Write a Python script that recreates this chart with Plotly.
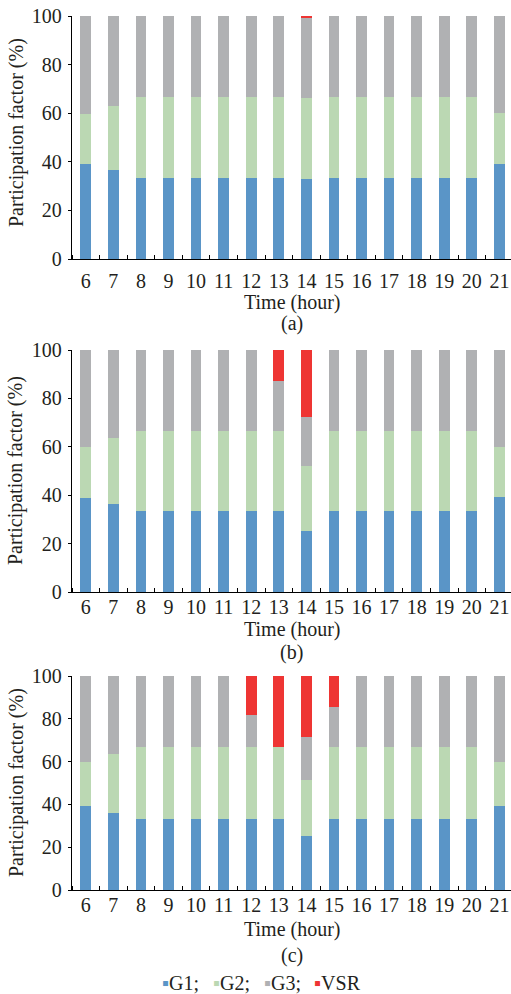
import plotly.graph_objects as go
from plotly.subplots import make_subplots

hours = list(range(6, 22))

# Panel (a): participation factors (%) per hour
a_g1 = [39.1, 36.6, 33.3, 33.3, 33.3, 33.3, 33.3, 33.3, 33.0, 33.3, 33.3, 33.3, 33.3, 33.3, 33.3, 39.3]
a_g2 = [20.7, 26.5, 33.4, 33.4, 33.4, 33.4, 33.4, 33.4, 33.2, 33.4, 33.4, 33.4, 33.4, 33.4, 33.4, 20.6]
a_g3 = [40.2, 36.9, 33.3, 33.3, 33.3, 33.3, 33.3, 33.3, 32.8, 33.3, 33.3, 33.3, 33.3, 33.3, 33.3, 40.1]
a_vsr = [0, 0, 0, 0, 0, 0, 0, 0, 1.0, 0, 0, 0, 0, 0, 0, 0]

# Panel (b)
b_g1 = [39.0, 36.3, 33.3, 33.3, 33.3, 33.3, 33.3, 33.3, 25.2, 33.3, 33.3, 33.3, 33.3, 33.3, 33.3, 39.1]
b_g2 = [20.9, 27.3, 33.4, 33.4, 33.4, 33.4, 33.4, 33.4, 26.8, 33.4, 33.4, 33.4, 33.4, 33.4, 33.4, 21.0]
b_g3 = [40.1, 36.4, 33.3, 33.3, 33.3, 33.3, 33.3, 20.5, 20.3, 33.3, 33.3, 33.3, 33.3, 33.3, 33.3, 39.9]
b_vsr = [0, 0, 0, 0, 0, 0, 0, 12.8, 27.7, 0, 0, 0, 0, 0, 0, 0]

# Panel (c)
c_g1 = [39.2, 35.9, 33.3, 33.3, 33.3, 33.3, 33.3, 33.3, 25.3, 33.3, 33.3, 33.3, 33.3, 33.3, 33.3, 39.3]
c_g2 = [20.5, 27.6, 33.4, 33.4, 33.4, 33.4, 33.4, 33.4, 26.3, 33.4, 33.4, 33.4, 33.4, 33.4, 33.4, 20.4]
c_g3 = [40.3, 36.5, 33.3, 33.3, 33.3, 33.3, 14.9, 0.0, 20.1, 18.7, 33.3, 33.3, 33.3, 33.3, 33.3, 40.3]
c_vsr = [0, 0, 0, 0, 0, 0, 18.4, 33.3, 28.3, 14.6, 0, 0, 0, 0, 0, 0]

series_names = ["G1", "G2", "G3", "VSR"]
colors = ["#5a95c7", "#bbd8b3", "#b0b1b3", "#ee3533"]
panels = [
    ("(a)", [a_g1, a_g2, a_g3, a_vsr]),
    ("(b)", [b_g1, b_g2, b_g3, b_vsr]),
    ("(c)", [c_g1, c_g2, c_g3, c_vsr]),
]

W, H = 511, 994
ML = 72
FONT = "Liberation Serif, Times New Roman, serif"
TXT = "#231f20"
FS = 20


def py(px):
    """Convert a pixel row (from the top) to paper y."""
    return 1 - px / H


def pxx(px):
    """Convert a pixel column to paper x (plot area starts at ML)."""
    return (px - ML) / (W - ML)


# plot-area rows in pixels: (top, bottom)
rows_px = [(16, 259), (350, 592), (676, 890)]
tick_standoff = [4, -3, -3]
title_px = [302, 629, 929]
label_px = [323, 652, 955]
ytitle_px = [133, 471, 783]
legend_x_px = [160, 211, 262, 312]
legend_y_px = 983

fig = make_subplots(rows=3, cols=1)

for r, (tag, vals) in enumerate(panels, start=1):
    for name, col, v in zip(series_names, colors, vals):
        fig.add_trace(
            go.Bar(x=hours, y=v, name=name, marker=dict(color=col, line=dict(width=0)),
                   width=0.39, showlegend=False),
            row=r, col=1,
        )

for i, (top, bot) in enumerate(rows_px):
    n = "" if i == 0 else str(i + 1)
    fig.layout["yaxis" + n].update(
        domain=[py(bot), py(top)], range=[0, 100], tickvals=[0, 20, 40, 60, 80, 100],
        ticks="outside", ticklen=3, tickwidth=1.2, tickcolor="black",
        showline=True, linecolor="black", linewidth=1.4, showgrid=False, zeroline=False,
        tickfont=dict(family=FONT, size=FS, color=TXT), ticklabelstandoff=2, automargin=False,
    )
    fig.layout["xaxis" + n].update(
        domain=[0, 1], range=[5.5, 21.42], tickvals=hours, ticks="",
        showline=True, linecolor="black", linewidth=1.4, showgrid=False, zeroline=False,
        tickfont=dict(family=FONT, size=FS, color=TXT), ticklabelstandoff=tick_standoff[i],
        automargin=False,
        minor=dict(ticks="inside", tick0=5.5, dtick=1, ticklen=4, tickwidth=1.2,
                   tickcolor="black", showgrid=False),
    )

annotations = []
for i, (tag, _) in enumerate(panels):
    annotations.append(dict(text="Time (hour)", x=0.5, y=py(title_px[i]), xref="paper", yref="paper",
                            xanchor="center", yanchor="middle", showarrow=False,
                            font=dict(family=FONT, size=FS, color=TXT)))
    annotations.append(dict(text=tag, x=0.5, y=py(label_px[i]), xref="paper", yref="paper",
                            xanchor="center", yanchor="middle", showarrow=False,
                            font=dict(family=FONT, size=FS, color=TXT)))
    annotations.append(dict(text="Participation factor (%)", x=pxx(16), y=py(ytitle_px[i]),
                            xref="paper", yref="paper", xanchor="center", yanchor="middle",
                            textangle=-90, showarrow=False,
                            font=dict(family=FONT, size=FS, color=TXT)))

# legend entries: coloured square followed by the series name
for k, (name, col) in enumerate(zip(series_names, colors)):
    sep = ";" if k < len(series_names) - 1 else ""
    annotations.append(dict(
        text=f'<span style="color:{col}">▪</span>{name}{sep}',
        x=pxx(legend_x_px[k]), y=py(legend_y_px), xref="paper", yref="paper",
        xanchor="left", yanchor="middle", showarrow=False,
        font=dict(family=FONT, size=FS, color=TXT)))

fig.update_layout(
    width=W, height=H, barmode="stack", bargap=0,
    margin=dict(l=ML, r=0, t=0, b=0, autoexpand=False),
    paper_bgcolor="white", plot_bgcolor="white",
    annotations=annotations, showlegend=False,
)

fig.write_html("out.html")
